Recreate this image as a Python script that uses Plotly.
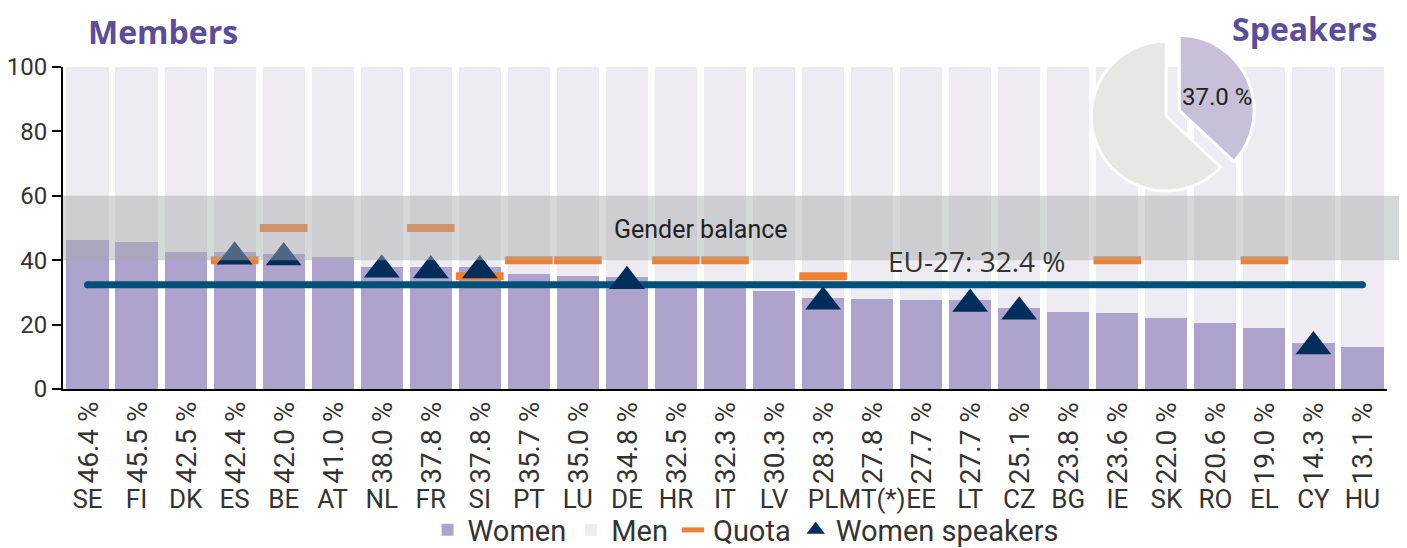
import plotly.graph_objects as go

countries = ["SE","FI","DK","ES","BE","AT","NL","FR","SI","PT","LU","DE","HR","IT","LV","PL","MT(*)","EE","LT","CZ","BG","IE","SK","RO","EL","CY","HU"]
women_pct = [46.4,45.5,42.5,42.4,42.0,41.0,38.0,37.8,37.8,35.7,35.0,34.8,32.5,32.3,30.3,28.3,27.8,27.7,27.7,25.1,23.8,23.6,22.0,20.6,19.0,14.3,13.1]
quota = [None,None,None,40,50,None,None,50,35,40,40,None,40,40,None,35,None,None,None,None,None,40,None,None,40,None,None]
women_speakers = [None,None,None,41.1,40.8,None,37.0,36.8,36.8,None,None,33.5,None,None,None,27.1,None,None,26.4,24.0,None,None,None,None,None,13.2,None]
eu_avg = 32.4
speakers_share = 37.0
balance_low, balance_high = 40, 60

men_pct = [round(100 - w, 1) for w in women_pct]

FONT = "Roboto"
TXT = "#333333"
PURPLE_T = "#5a4d9b"

fig = go.Figure()
fig.add_trace(go.Bar(x=countries, y=women_pct, name="Women", marker_color="#ada3cc",
                     marker_line_width=0, legendrank=1))
fig.add_trace(go.Bar(x=countries, y=men_pct, name="Men", marker_color="#eeecf2",
                     marker_line_width=0, legendrank=2))
fig.add_trace(go.Scatter(x=[countries[0], countries[-1]], y=[eu_avg, eu_avg], mode="lines+markers",
                         line=dict(color="#00507a", width=7),
                         marker=dict(symbol="circle", size=7, color="#00507a", line=dict(width=0)),
                         showlegend=False, hoverinfo="skip"))
fig.add_trace(go.Scatter(x=countries, y=quota, mode="markers", name="Quota",
                         marker=dict(symbol="line-ew", size=34, color="#ef8031",
                                     line=dict(color="#ef8031", width=8)), legendrank=3))
fig.add_trace(go.Scatter(x=countries, y=women_speakers, mode="markers", name="Women speakers",
                         marker=dict(symbol="triangle-up", size=31, color="#002d59",
                                     line=dict(width=0)), legendrank=4))

fig.add_trace(go.Pie(values=[speakers_share, round(100 - speakers_share, 1)],
                     labels=["Women speakers", "Men speakers"],
                     textinfo="none",
                     sort=False, direction="clockwise", rotation=0, pull=[0.19, 0],
                     marker=dict(colors=["#c8c0d8", "#e8e7e3"], line=dict(color="white", width=3)),
                     domain=dict(x=[0.7658, 0.9006], y=[0.4848, 0.9558]),
                     showlegend=False, hoverinfo="skip"))

fig.add_shape(type="rect", xref="paper", yref="y", x0=0, x1=1.012, y0=balance_low, y1=balance_high,
              fillcolor="rgba(168,169,175,0.47)", line_width=0, layer="above")

annotations = []
for c, w in zip(countries, women_pct):
    annotations.append(dict(x=c, xref="x", y=-0.1425, yref="paper", text=f"{w:.1f} %",
                            textangle=-90, showarrow=False, xanchor="center", yanchor="middle",
                            font=dict(family=FONT, size=28, color=TXT)))
annotations.append(dict(x=0.482, xref="paper", y=(balance_low + balance_high) / 2 - 0.5, yref="y",
                        xanchor="center", yanchor="middle",
                        text="Gender balance", showarrow=False,
                        font=dict(family=FONT, size=25, color="#222222")))
annotations.append(dict(x=0.6896, xref="paper", y=eu_avg, yref="y", xanchor="center",
                        yanchor="bottom", yshift=3,
                        text=f"EU-27: {eu_avg} %", showarrow=False,
                        font=dict(family="Open Sans", size=28, color="#333333")))
annotations.append(dict(x=(1217 - 63) / 1324, xref="paper", y=0.7713, yref="paper",
                        xanchor="center", yanchor="middle",
                        text=f"{speakers_share:.1f} %", showarrow=False,
                        font=dict(family=FONT, size=24, color="#222222")))
annotations.append(dict(x=0.0755, xref="paper", y=0.942, yref="paper", text="<b>Members</b>",
                        xanchor="center", yanchor="middle",
                        showarrow=False, font=dict(family="Open Sans", size=32, color=PURPLE_T)))
annotations.append(dict(x=0.938, xref="paper", y=0.950, yref="paper", text="<b>Speakers</b>",
                        xanchor="center", yanchor="middle",
                        showarrow=False, font=dict(family="Open Sans", size=32, color=PURPLE_T)))

fig.update_layout(
    width=1399, height=540,
    margin=dict(l=55, r=20, t=2, b=159, autoexpand=False),
    paper_bgcolor="white", plot_bgcolor="white",
    barmode="stack", bargap=0.14,
    showlegend=True,
    legend=dict(orientation="h", xref="container", yref="container",
                x=0.5272, xanchor="center", y=0.0333, yanchor="middle",
                traceorder="normal",
                font=dict(family=FONT, size=29, color=TXT),
                bgcolor="rgba(0,0,0,0)"),
    annotations=annotations,
    font=dict(family=FONT, color=TXT),
)
fig.update_xaxes(type="category", showline=True, linecolor="black", linewidth=2,
                 showgrid=False, ticks="", tickfont=dict(family=FONT, size=26, color=TXT),
                 ticklabelstandoff=86, tickangle=0, range=[-0.5, 26.5], automargin=False)
fig.update_yaxes(range=[0, 100], dtick=20, showline=True, linecolor="black", linewidth=2,
                 ticks="outside", ticklen=9, tickwidth=2, tickcolor="black", showgrid=False,
                 zeroline=False, tickfont=dict(family=FONT, size=24, color=TXT),
                 domain=[0, 0.8496], automargin=False)

fig.write_html("out.html")
